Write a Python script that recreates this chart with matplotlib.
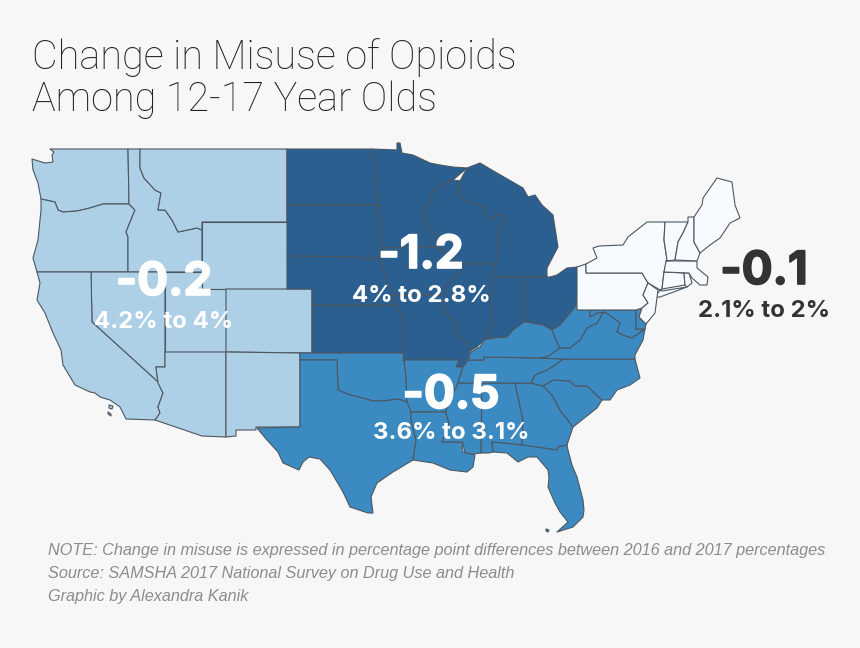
import matplotlib
matplotlib.use("Agg")
import matplotlib.pyplot as plt
import matplotlib.patheffects as pe
from matplotlib.patches import Polygon

# state outlines (x, y in image pixels)
WA = [(50,149),(128,149),(129,204),(103,204),(90,208),(77,211),(63,212),(58,210),(55,202),(41,199),(38,183),(33,170),(32,159),(45,163),(53,162),(52,155),(54,152)]
OR = [(41,199),(55,202),(58,210),(63,212),(77,211),(90,208),(103,204),(129,204),(135,210),(126,232),(128,237),(128,272),(37,272),(33,258),(38,240),(41,210)]
ID = [(128,149),(140,149),(140,168),(144,178),(155,190),(161,193),(158,210),(165,210),(172,220),(178,232),(197,228),(202,230),(202,272),(128,272),(128,237),(126,232),(135,210),(129,204)]
MT = [(140,149),(287,149),(287,222),(202,222),(202,230),(197,228),(178,232),(172,220),(165,210),(158,210),(161,193),(155,190),(144,178),(140,168)]
WY = [(202,222),(287,222),(287,289),(202,289)]
NV = [(91,272),(165,272),(165,367),(156,367),(158,382),(92,322)]
UT = [(165,272),(202,272),(202,289),(226,289),(226,352),(165,352)]
CO = [(226,289),(312,289),(312,353),(226,352)]
CA = [(37,272),(91,272),(92,322),(158,382),(163,393),(158,407),(160,413),(155,420),(126,419),(120,407),(110,400),(100,397),(95,393),(90,392),(75,385),(63,365),(61,350),(53,333),(45,313),(37,300),(40,283)]
AZ = [(165,352),(226,352),(226,437),(202,436),(155,420),(160,413),(158,407),(163,393),(158,383),(156,367),(165,367)]
NM = [(226,352),(300,353),(300,427),(256,427),(256,430),(236,430),(236,436),(226,437)]
CA_ISLANDS = [[(109,405),(113,406),(112,409),(109,408)], [(108,412),(111,414),(111,416),(108,414)]]

ND = [(287,149),(372,149),(375,165),(377,180),(379,205),(287,205)]
SD = [(287,205),(379,205),(377,212),(381,220),(381,248),(380,260),(372,258),(363,259),(355,257),(287,256)]
NE = [(287,256),(355,257),(363,259),(372,258),(380,260),(382,263),(387,280),(392,295),(397,305),(312,305),(312,289),(287,289)]
KS = [(312,305),(397,305),(400,312),(403,318),(403,353),(312,353)]
MN = [(372,149),(397,150),(397,143),(400,143),(402,153),(413,155),(430,163),(440,165),(453,167),(467,168),(453,180),(443,185),(432,192),(432,202),(425,208),(427,227),(435,233),(437,247),(381,248),(381,220),(377,212),(379,205),(377,180),(375,165)]
IA = [(381,248),(437,247),(447,253),(458,262),(460,264),(462,272),(452,280),(447,285),(443,295),(392,295),(387,280),(382,263),(380,260)]
MO = [(392,295),(443,295),(442,307),(452,320),(458,325),(457,333),(467,343),(470,351),(468,359),(463,367),(456,367),(459,360),(403,360),(403,318),(400,312),(397,305)]
WI = [(453,180),(460,181),(457,195),(470,202),(483,207),(487,215),(490,220),(497,214),(507,217),(498,233),(496,264),(460,264),(458,262),(447,253),(437,247),(435,233),(427,227),(425,208),(432,202),(432,192),(443,185)]
MI = [(467,168),(480,163),(497,173),(523,188),(528,197),(535,195),(542,205),(553,215),(558,247),(547,268),(547,277),(491,277),(496,264),(498,233),(507,217),(497,214),(490,220),(487,215),(483,207),(470,202),(457,195),(460,181)]
IL = [(460,264),(496,264),(491,277),(491,320),(492,322),(490,330),(484,340),(477,347),(470,351),(467,343),(457,333),(458,325),(452,320),(442,307),(443,295),(447,285),(452,280),(462,272)]
IN = [(491,277),(524,277),(524,322),(513,330),(507,337),(493,338),(484,340),(490,330),(492,322),(491,320)]
OH = [(524,277),(550,277),(557,275),(567,268),(578,267),(578,297),(575,307),(567,317),(560,325),(552,330),(543,325),(527,322),(524,322)]

OK = [(300,353),(403,353),(404,360),(406,377),(407,402),(398,399),(383,401),(373,401),(363,398),(350,395),(338,390),(337,360),(300,360)]
TX = [(337,360),(338,390),(350,395),(363,398),(373,401),(383,401),(398,399),(407,402),(411,404),(411,420),(416,440),(413,460),(393,472),(377,483),(371,497),(373,513),(368,513),(350,507),(343,492),(330,470),(320,459),(309,457),(303,462),(299,470),(283,463),(278,452),(267,440),(257,428),(300,427),(300,360)]
AR = [(403,360),(459,360),(456,367),(463,367),(458,383),(447,407),(446,412),(411,412),(407,402),(406,377),(404,360)]
LA = [(411,412),(446,412),(447,417),(449,423),(442,442),(462,442),(463,452),(475,455),(473,467),(467,472),(450,470),(433,463),(413,460),(416,440),(411,420)]
MS = [(458,383),(482,383),(481,453),(473,454),(465,453),(463,443),(462,442),(442,442),(449,423),(447,417),(446,412),(447,407)]
AL = [(482,383),(515,383),(523,420),(522,445),(492,442),(493,452),(489,453),(481,453)]
GA = [(515,383),(531,383),(543,386),(552,395),(560,410),(573,427),(567,445),(558,447),(557,450),(522,445),(523,420)]
FL = [(492,442),(522,445),(557,450),(558,447),(567,445),(568,450),(572,465),(577,477),(583,500),(584,510),(583,517),(573,527),(557,532),(568,522),(560,512),(555,503),(548,487),(549,478),(548,470),(537,457),(528,457),(518,462),(507,453),(493,452)]
SC = [(543,386),(553,380),(570,381),(575,386),(587,386),(602,400),(597,408),(573,427),(560,410),(552,395)]
NC = [(563,359),(635,359),(640,378),(630,385),(617,390),(610,400),(602,400),(587,386),(575,386),(570,381),(553,380),(543,386),(531,383),(535,375),(547,370),(558,363)]
TN = [(468,360),(484,360),(484,357),(540,358),(563,359),(558,363),(547,370),(535,375),(531,383),(458,383),(463,367)]
KY = [(471,352),(480,347),(484,340),(493,338),(507,337),(513,330),(524,322),(527,322),(543,325),(552,330),(557,342),(560,348),(547,357),(540,358),(484,357),(484,360),(468,360)]
VA = [(540,358),(547,357),(560,348),(570,348),(580,340),(587,328),(597,323),(603,313),(605,312),(612,317),(620,323),(617,332),(623,335),(632,338),(645,329),(643,340),(635,355),(635,359),(563,359)]
WV = [(578,297),(578,310),(590,310),(590,317),(597,313),(605,312),(603,313),(597,323),(587,328),(580,340),(570,348),(560,348),(557,342),(552,330),(560,325),(567,317),(575,307)]
MD = [(590,310),(636,310),(636,329),(645,329),(632,338),(623,335),(617,332),(620,323),(612,317),(605,312),(597,313),(590,317)]
DE = [(636,309),(642,308),(639,317),(646,324),(645,329),(636,329)]
FL_KEY = [(546,529),(549,530),(548,532),(546,531)]

PA = [(577,267),(586,264),(586,273),(642,273),(648,283),(643,295),(648,303),(642,308),(636,310),(577,310)]
NY = [(586,264),(597,258),(593,248),(599,246),(623,245),(628,237),(647,222),(665,222),(664,240),(667,260),(664,272),(662,289),(660,290),(655,297),(660,297),(687,287),(662,291),(648,283),(642,273),(586,273)]
NJ = [(642,308),(648,303),(643,295),(648,283),(658,290),(655,313),(646,324),(639,317)]
CT = [(664,272),(684,273),(685,285),(662,289)]
RI = [(684,273),(689,273),(692,283),(687,287),(685,285)]
MA = [(666,261),(697,261),(697,268),(708,277),(707,285),(700,285),(692,278),(689,273),(664,272)]
VT = [(665,222),(688,222),(683,233),(678,242),(675,260),(666,261),(667,260),(664,240)]
NH = [(688,217),(694,217),(694,242),(700,253),(697,261),(675,260),(678,242),(683,233),(688,222)]
ME = [(694,217),(702,205),(703,198),(717,178),(732,182),(735,205),(740,218),(730,223),(720,238),(710,245),(700,253),(694,242)]

west_states = [WA, OR, ID, MT, WY, NV, UT, CO, CA, AZ, NM] + CA_ISLANDS
midwest_states = [ND, SD, NE, KS, MN, IA, MO, WI, MI, IL, IN, OH]
south_states = [OK, TX, AR, LA, MS, AL, GA, FL, SC, NC, TN, KY, VA, WV, MD, DE, FL_KEY]
northeast_states = [PA, NY, NJ, CT, RI, MA, VT, NH, ME]

changes = ["-0.2", "-1.2", "-0.5", "-0.1"]
ranges = ["4.2% to 4%", "4% to 2.8%", "3.6% to 3.1%", "2.1% to 2%"]
title_lines = ["Change in Misuse of Opioids", "Among 12-17 Year Olds"]
notes = ["NOTE: Change in misuse is expressed in percentage point differences between 2016 and 2017 percentages",
         "Source: SAMSHA 2017 National Survey on Drug Use and Health",
         "Graphic by Alexandra Kanik"]

fig = plt.figure(figsize=(8.6, 6.48), dpi=100, facecolor="#f7f7f7")
ax = fig.add_axes([0, 0, 1, 1])
ax.set_xlim(0, 860)
ax.set_ylim(648, 0)
ax.axis("off")

groups = [(west_states, "#aed0e6"), (midwest_states, "#2a5f90"), (south_states, "#3c8ac2"), (northeast_states, "#f7faff")]
for states, colour in groups:
    for state in states:
        ax.add_patch(Polygon(state, closed=True, facecolor=colour, edgecolor="#4d5761", linewidth=0.8, joinstyle="round"))

# big numbers and their ranges
label_x = [164, 421, 451, 764]
label_y = [283, 256, 396, 272]
range_y = [322, 296, 433, 311]
label_col = ["white", "white", "white", "#333333"]
for i in range(4):
    big = ax.text(label_x[i], label_y[i], changes[i], ha="center", va="center", color=label_col[i],
                  fontsize=33, fontweight="bold", family="Inter")
    big.set_path_effects([pe.withStroke(linewidth=1.2, foreground=label_col[i])])
    ax.text(label_x[i], range_y[i], ranges[i], ha="center", va="center", color=label_col[i],
            fontsize=17.3, fontweight="bold", family="Inter")

for y, line in zip([69, 111], title_lines):
    ax.text(32, y, line, fontsize=28.5, color="#222222", va="baseline", family="Roboto", fontweight="light")

for y, line in zip([555, 578, 601], notes):
    ax.text(48, y, line, fontsize=11.7, style="italic", color="#8c8c8c", va="baseline", family="Liberation Sans")

fig.savefig("out.png", dpi=100, facecolor=fig.get_facecolor())
